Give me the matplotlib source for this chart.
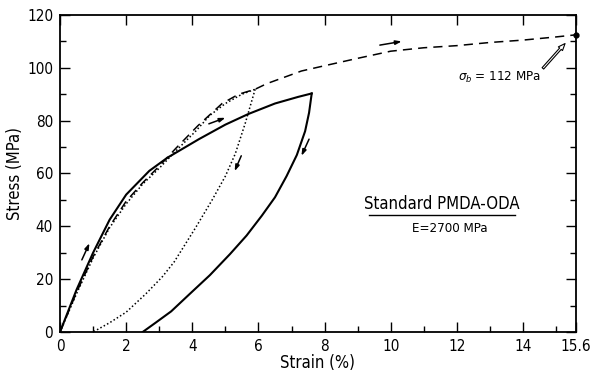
import numpy as np
import matplotlib
matplotlib.use('Agg')
import matplotlib.pyplot as plt

plt.rcParams['font.family'] = 'DejaVu Sans'
plt.rcParams['font.stretch'] = 'condensed'

# Curva de carga continua hasta rotura (discontinua)
rot_x = [0, 0.5, 1, 1.5, 2, 2.5, 3, 3.5, 4.17, 4.9, 5.4, 5.9, 6.25, 7.3, 8, 9, 10, 11, 12, 13, 14, 15, 15.6]
rot_y = [0, 15, 28.5, 40, 49.5, 56.5, 62.8, 69.5, 78.1, 86.5, 90, 91.9, 94, 98.8, 100.8, 103.6, 106.3, 107.6, 108.4, 109.6, 110.5, 111.7, 112.5]

# Ciclo carga/descarga (continua)
carga_x = [0, 0.5, 1.0, 1.5, 2.0, 2.7, 3.25, 4.2, 5.0, 5.69, 6.5, 7.2, 7.61]
carga_y = [0, 16, 30, 42.5, 52, 61, 66, 73, 78.5, 82.5, 86.5, 89, 90.3]
desc_x = [7.61, 7.53, 7.41, 7.16, 6.85, 6.5, 6.1, 5.64, 5.14, 4.53, 3.93, 3.36, 2.9, 2.5]
desc_y = [90.3, 83, 76, 67, 59, 51, 44, 36.5, 29.5, 21.5, 14.5, 7.8, 3.6, 0]

# Ciclo carga/descarga (punteado)
pt_carga_x = [0, 0.5, 1, 1.5, 2, 2.5, 3, 3.5, 4.1, 4.53, 5.0, 5.5, 5.9]
pt_carga_y = [0, 14.5, 28, 39.5, 48.5, 56, 62, 68.5, 76, 82, 86.5, 90, 91.9]
pt_desc_x = [5.9, 5.6, 5.3, 5.0, 4.6, 4.1, 3.45, 3.1, 2.6, 2.0, 1.5, 1.0]
pt_desc_y = [91.9, 79, 67.5, 59, 50, 39.5, 26.5, 21, 14.5, 7.5, 3.5, 0]

# Flechas de direccion (inicio, fin)
flechas = [((0.66, 27.3), (0.89, 33.6)),
           ((4.5, 78.8), (5.0, 81.1)),
           ((5.48, 66.7), (5.28, 60.9)),
           ((7.53, 73.0), (7.3, 66.7)),
           ((9.67, 108.6), (10.33, 110.0))]

xticks = [0, 2, 4, 6, 8, 10, 12, 14, 15.6]
xlabels = ['0', '2', '4', '6', '8', '10', '12', '14', '15.6']
yticks = [0, 20, 40, 60, 80, 100, 120]

fig = plt.figure(figsize=(5.96, 3.75), dpi=100)
ax = fig.add_axes([0.1007, 0.1147, 0.8657, 0.8453])

ax.plot(rot_x, rot_y, color='black', lw=1.1, dashes=(6, 4))
ax.plot(carga_x, carga_y, color='black', lw=1.5)
ax.plot(desc_x, desc_y, color='black', lw=1.5)
ax.plot(pt_carga_x, pt_carga_y, color='black', lw=1.1, dashes=(1, 1.5))
ax.plot(pt_desc_x, pt_desc_y, color='black', lw=1.1, dashes=(1, 1.5))
ax.plot([15.6], [112.5], 'o', color='black', ms=3.5, clip_on=False)

for ini, fin in flechas:
    ax.annotate('', xy=fin, xytext=ini,
                arrowprops=dict(arrowstyle='-|>,head_length=0.35,head_width=0.12',
                                color='black', lw=1.1, shrinkA=0, shrinkB=0))

ax.annotate('', xy=(15.27, 109.2), xytext=(14.6, 99.8),
            arrowprops=dict(arrowstyle='simple,head_length=0.5,head_width=0.4,tail_width=0.15',
                            fc='white', ec='black', lw=0.8, shrinkA=0, shrinkB=0))

ax.text(13.3, 96.3, r'$\sigma_b$ = 112 MPa', ha='center', va='center', fontsize=9.5)
ax.text(11.55, 48.5, 'Standard PMDA-ODA', ha='center', va='center', fontsize=12)
ax.plot([9.35, 13.75], [44.3, 44.3], color='black', lw=1.0)
ax.text(11.8, 39.3, 'E=2700 MPa', ha='center', va='center', fontsize=9.5)

ax.set_xlim(0, 15.6)
ax.set_ylim(0, 120)
ax.set_xticks(xticks)
ax.set_xticklabels(xlabels)
ax.set_xticks([1, 3, 5, 7, 9, 11, 13, 15], minor=True)
ax.set_yticks(yticks)
ax.set_yticks([10, 30, 50, 70, 90, 110], minor=True)
ax.tick_params(which='major', direction='in', length=7, width=1.0, labelsize=11,
               top=True, right=True, pad=5)
ax.tick_params(which='minor', direction='in', length=4, width=1.0, right=True)
for s in ax.spines.values():
    s.set_linewidth(1.3)

ax.set_xlabel('Strain (%)', fontsize=12, labelpad=0)
ax.set_ylabel('Stress (MPa)', fontsize=12, labelpad=2)

plt.savefig('out.png', dpi=100)
plt.close()
